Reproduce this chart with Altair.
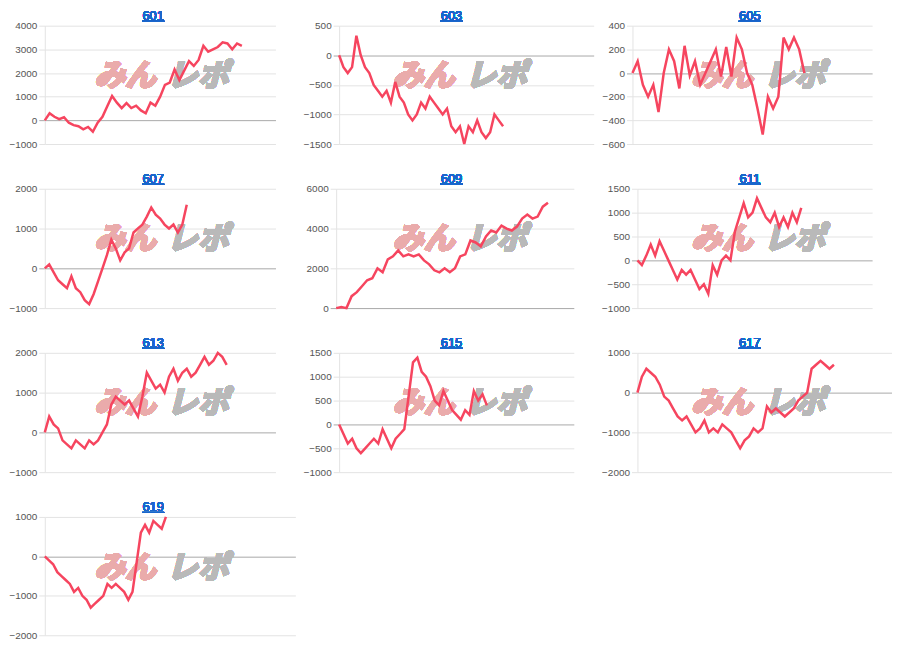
import altair as alt
import pandas as pd

# ---------------- data ----------------
names = ["601", "603", "605", "607", "609", "611", "613", "615", "617", "619"]

s601 = [0, 300, 150, 50, 130, -100, -200, -250, -380, -280, -480, -100, 150, 600, 1030,
        750, 520, 730, 520, 620, 420, 300, 750, 620, 1000, 1500, 1600, 2150, 1700, 2100,
        2500, 2300, 2550, 3150, 2900, 3000, 3100, 3300, 3250, 3000, 3250, 3150]
s603 = [0, -200, -300, -200, 330, 0, -200, -300, -500, -600, -700, -600, -800, -450, -700,
        -800, -1000, -1100, -1000, -800, -900, -700, -800, -900, -1000, -900, -1200, -1300,
        -1200, -1500, -1200, -1300, -1100, -1300, -1400, -1300, -1000, -1100, -1200]
s605 = [0, 100, -100, -200, -100, -330, 0, 200, 100, -130, 230, -20, 100, -100, 0, 100, 200,
        -30, 220, -30, 300, 200, 0, -100, -300, -520, -200, -300, -200, 300, 200, 300, 200, 0]
s607 = [0, 100, -100, -300, -400, -500, -200, -500, -600, -800, -900, -650, -330, 0, 330,
        720, 500, 200, 400, 500, 900, 1000, 1100, 1300, 1530, 1350, 1250, 1100, 1000, 1100,
        900, 1100, 1600]
s609 = [0, 50, 0, 600, 800, 1100, 1400, 1500, 2000, 1800, 2450, 2600, 2900, 2600, 2700, 2600,
        2700, 2400, 2200, 1900, 1800, 2000, 1800, 2000, 2600, 2700, 3400, 3300, 3100, 3600,
        3900, 3800, 4150, 4000, 3900, 4100, 4500, 4700, 4500, 4600, 5100, 5300]
s611 = [0, -100, 100, 330, 100, 400, 200, 0, -200, -400, -200, -300, -200, -400, -600, -500,
        -700, -100, -300, 0, 100, 0, 600, 900, 1200, 900, 1000, 1300, 1100, 900, 800, 1000,
        700, 900, 700, 1000, 800, 1100]
s613 = [0, 400, 200, 100, -200, -300, -400, -200, -300, -400, -200, -300, -200, 0, 200, 700,
        900, 800, 700, 800, 600, 400, 900, 1500, 1300, 1100, 1200, 1000, 1400, 1600, 1300,
        1500, 1600, 1400, 1500, 1700, 1900, 1700, 1800, 2000, 1900, 1700]
s615 = [0, -200, -400, -300, -500, -600, -500, -400, -300, -400, -100, -300, -500, -300, -200,
        -100, 600, 1300, 1400, 1100, 1000, 800, 500, 400, 700, 500, 300, 200, 100, 300, 200,
        700, 500, 630, 400]
s617 = [0, 400, 600, 500, 400, 200, -100, -200, -400, -600, -700, -600, -800, -1000, -900,
        -700, -1000, -900, -1000, -800, -900, -1000, -1200, -1400, -1200, -1100, -900, -1000,
        -900, -350, -500, -400, -500, -600, -500, -400, -200, -100, 0, 600, 700, 800, 700,
        600, 700]
s619 = [0, -100, -200, -400, -500, -600, -700, -900, -800, -1000, -1100, -1300, -1200, -1100,
        -1000, -700, -800, -700, -800, -900, -1100, -900, -150, 600, 800, 600, 900, 800, 700,
        1000]

series = [s601, s603, s605, s607, s609, s611, s613, s615, s617, s619]
slots = [48, 59, 46, 52, 46, 53, 52, 54, 57, 60]          # x-domain length per panel
ydom = [(-1000, 4000, 1000), (-1500, 500, 500), (-600, 400, 200),
        (-1000, 2000, 1000), (0, 6000, 2000), (-1000, 1500, 500),
        (-1000, 2000, 1000), (-1000, 1500, 500), (-2000, 1000, 1000),
        (-2000, 1000, 1000)]

# ---------------- layout / style ----------------
extents = [29, 64, 39, 29, 61, 64, 29, 64, 64, 29]
widths = [232, 256, 241, 232, 239, 236, 232, 236, 256, 252]
heights = [119, 119, 119, 120, 120, 120, 120, 120, 120, 119]
offs = [41, 37, 32, 41, 34, 37, 41, 37, 37, 41]   # plot-left offset inside each 300px cell

LINE = "#f6455f"
GRID = "#e3e3e3"
ZERO = "#a8a8a8"
FONT = "Arial"
LINK = "#1a66cc"


def panel(k):
    vals = series[k]
    ymin, ymax, step = ydom[k]
    w, h, off = widths[k], heights[k], offs[k]
    ticks = list(range(ymin, ymax + 1, step))
    df = pd.DataFrame({"i": list(range(len(vals))), "v": vals})
    base = alt.Chart(df)
    cx = 150 - off  # title centre relative to plot left

    zero_or_grid = {"condition": {"test": "datum.value === 0", "value": ZERO}, "value": GRID}
    yaxis = alt.Axis(values=ticks, grid=True, gridColor=zero_or_grid, tickColor=zero_or_grid,
                     tickSize=6, domainColor=GRID, labelFontSize=10,
                     labelColor="#555555", labelFont=FONT, labelPadding=2,
                     labelOverlap=False, labelFlush=False, minExtent=extents[k],
                     maxExtent=extents[k], title=None, format="d")
    enc = dict(
        x=alt.X("i:Q", scale=alt.Scale(domain=[0, slots[k]], nice=False, zero=False), axis=None),
        y=alt.Y("v:Q", scale=alt.Scale(domain=[ymin, ymax], nice=False, zero=False), axis=yaxis),
    )
    axis_layer = base.mark_line(strokeOpacity=0).encode(**enc)
    line = base.mark_line(color=LINE, strokeWidth=2.5).encode(**enc)

    wm1 = base.mark_text(font="Noto Sans CJK JP", fontSize=31, fontWeight="bold",
                         fontStyle="italic", color="#eaabab", stroke="#eaabab",
                         strokeWidth=1.5, align="left", baseline="middle").encode(
        x=alt.value(91 - off), y=alt.value(52), text=alt.value("みん"))
    wm2 = base.mark_text(font="Noto Sans CJK JP", fontSize=31, fontWeight="bold",
                         fontStyle="italic", color="#b9b9b9", stroke="#b9b9b9",
                         strokeWidth=1.5, align="left", baseline="middle").encode(
        x=alt.value(164 - off), y=alt.value(52), text=alt.value("レポ"))
    title = base.mark_text(font=FONT, fontSize=13, color=LINK, align="center",
                           baseline="top").encode(
        x=alt.value(cx), y=alt.value(-16), text=alt.value(names[k]))
    underline = base.mark_rule(color=LINK, strokeWidth=1).encode(
        x=alt.value(cx - 11), x2=alt.value(cx + 11), y=alt.value(-4.5))

    return alt.layer(axis_layer, wm1, wm2, line, title, underline).properties(width=w, height=h)


rows = []
for r in range(4):
    idx = list(range(r * 3, min(r * 3 + 3, len(series))))
    rows.append(alt.hconcat(*[panel(k) for k in idx], spacing=0))

chart = alt.vconcat(*rows, spacing=24).properties(
    padding=0
).configure(background="white").configure_view(strokeWidth=0, stroke=None)

chart.save("out.html", embed_options={"renderer": "svg", "actions": False})
